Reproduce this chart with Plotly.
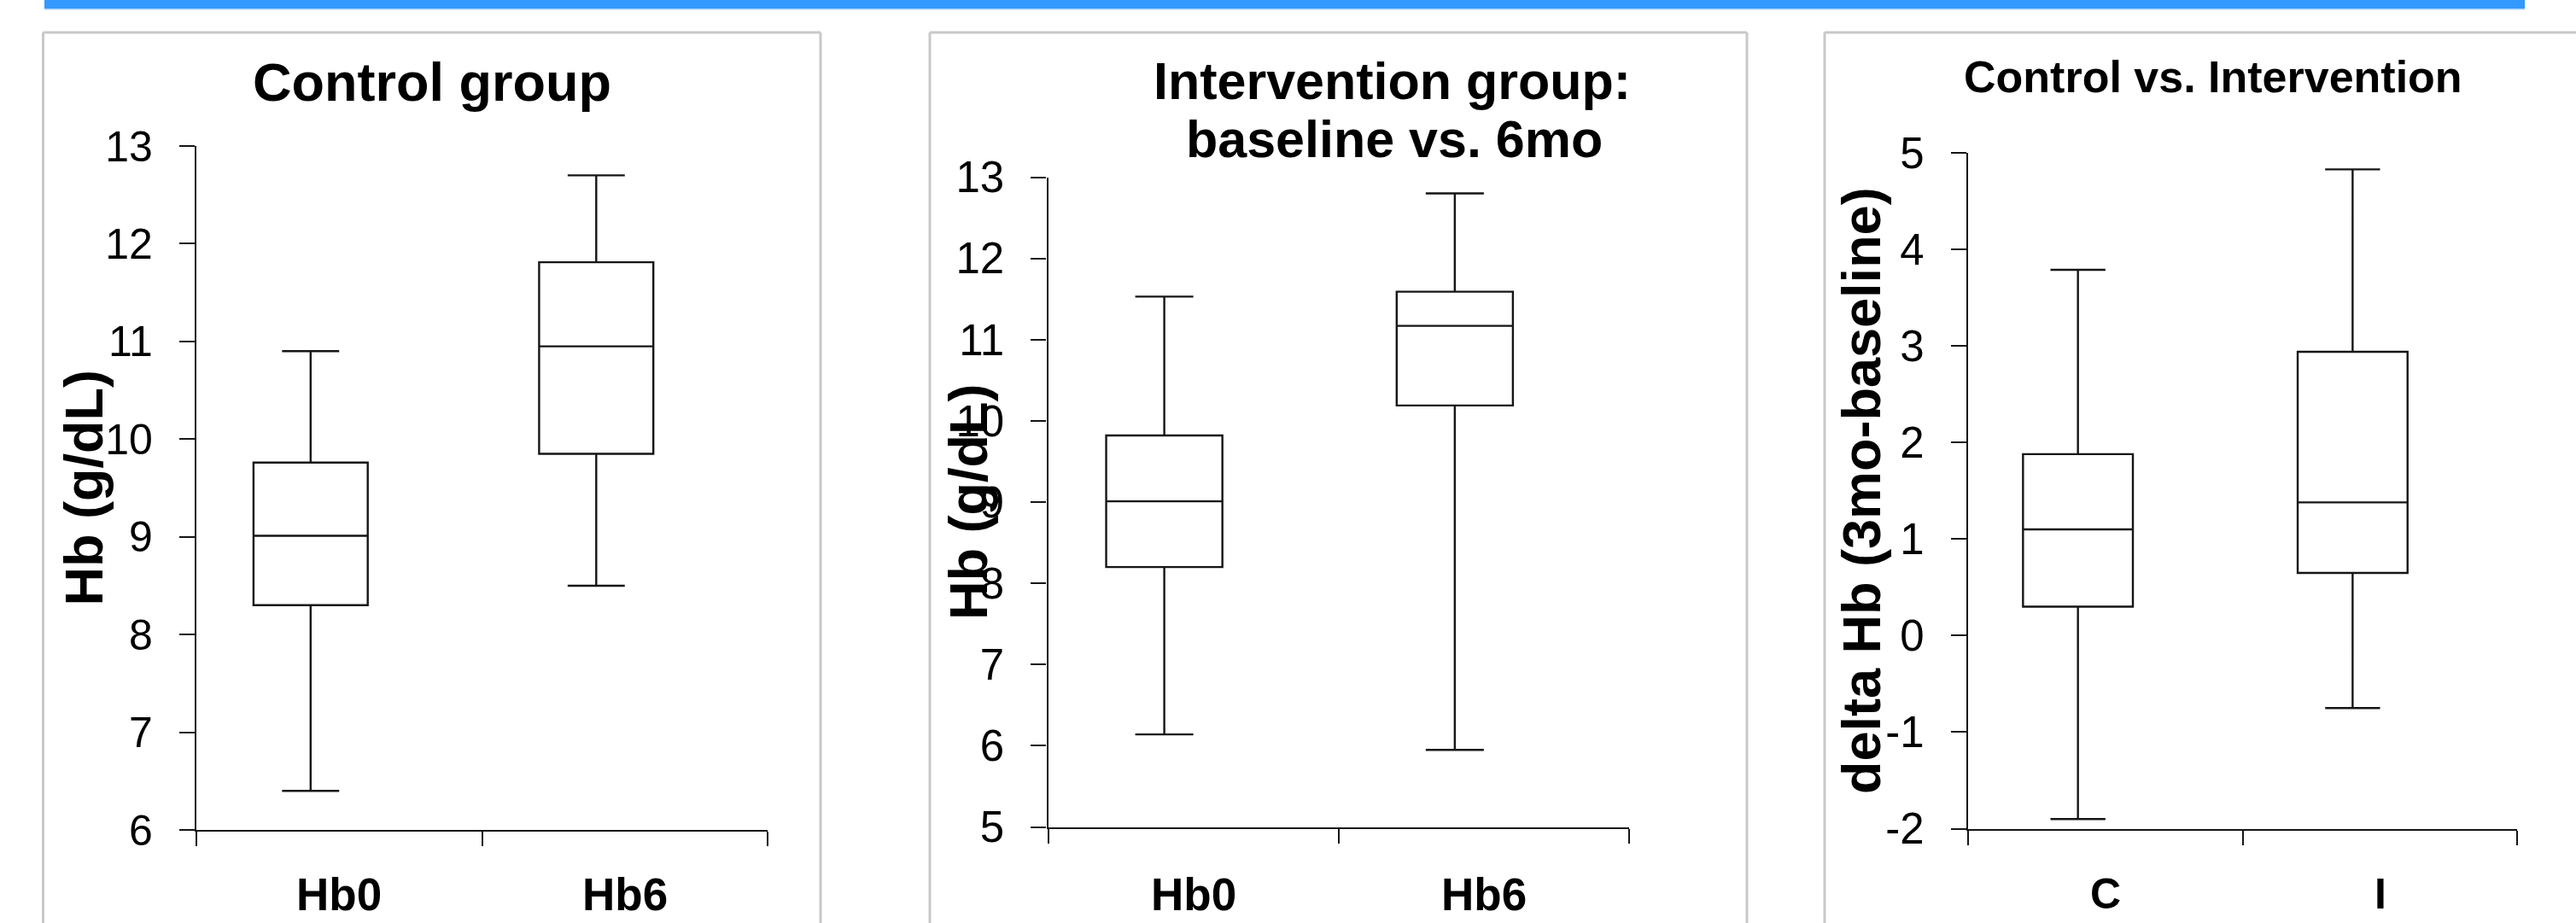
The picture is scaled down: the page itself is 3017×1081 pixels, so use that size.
import plotly.graph_objects as go

W, H = 3017, 1081

# ---------------- data ----------------
p1_categories = ["Hb0", "Hb6"]
p1_lower = [6.40, 8.50]
p1_q1 = [8.30, 9.85]
p1_median = [9.01, 10.95]
p1_q3 = [9.76, 11.81]
p1_upper = [10.90, 12.70]

p2_categories = ["Hb0", "Hb6"]
p2_lower = [6.14, 5.95]
p2_q1 = [8.20, 10.19]
p2_median = [9.01, 11.17]
p2_q3 = [9.82, 11.59]
p2_upper = [11.53, 12.80]

p3_categories = ["C", "I"]
p3_lower = [-1.90, -0.75]
p3_q1 = [0.30, 0.65]
p3_median = [1.10, 1.38]
p3_q3 = [1.88, 2.94]
p3_upper = [3.79, 4.83]

p1_yticks = [6, 7, 8, 9, 10, 11, 12, 13]
p2_yticks = [5, 6, 7, 8, 9, 10, 11, 12, 13]
p3_yticks = [-2, -1, 0, 1, 2, 3, 4, 5]

titles = ["Control group", "Intervention group:", "baseline vs. 6mo", "Control vs. Intervention"]
ytitles = ["Hb (g/dL)", "Hb (g/dL)", "delta Hb (3mo-baseline)"]

FONT = "Liberation Sans, Arial, sans-serif"
INK = "#151515"


def px(x):
    return x / W


def py(y):
    return 1 - y / H


fig = go.Figure()

panels = [
    (p1_lower, p1_q1, p1_median, p1_q3, p1_upper, "x", "y"),
    (p2_lower, p2_q1, p2_median, p2_q3, p2_upper, "x2", "y2"),
    (p3_lower, p3_q1, p3_median, p3_q3, p3_upper, "x3", "y3"),
]
for lo, q1, me, q3, up, xa, ya in panels:
    fig.add_trace(go.Box(
        x=[i + 0.4 for i in range(len(me))],
        lowerfence=lo, q1=q1, median=me, q3=q3, upperfence=up,
        width=0.4, whiskerwidth=0.5,
        fillcolor="white", line=dict(color=INK, width=2.4),
        xaxis=xa, yaxis=ya, showlegend=False, hoverinfo="skip",
    ))

# axis geometry (pixels)
xdom = [(230, 899), (1227.5, 1908), (2305, 2948.4)]
ydom = [(171, 972), (207.5, 968.6), (179.2, 970.5)]
yranges = [[6, 13], [5, 13], [-2, 5]]
yticks = [p1_yticks, p2_yticks, p3_yticks]
tick_sizes = [50, 51, 51]

axcommon = dict(showgrid=False, zeroline=False, showline=True, linecolor=INK,
                linewidth=2.2, ticks="outside", tickcolor=INK, tickwidth=2.2,
                automargin=False)
for k in range(3):
    sfx = "" if k == 0 else str(k + 1)
    fig.update_layout(**{
        "xaxis" + sfx: dict(axcommon, domain=[px(xdom[k][0]), px(xdom[k][1])],
                            range=[0, 2], tickvals=[0, 1, 2], showticklabels=False,
                            ticklen=17, anchor="y" + sfx),
        "yaxis" + sfx: dict(axcommon, domain=[py(ydom[k][1]), py(ydom[k][0])],
                            range=yranges[k], tickvals=yticks[k],
                            ticktext=[str(v) for v in yticks[k]], ticklen=18,
                            ticklabelstandoff=21,
                            tickfont=dict(family=FONT, size=tick_sizes[k], color="#000"),
                            anchor="x" + sfx),
    })

ann = []
ann.append(dict(text="<b>%s</b>" % titles[0], x=px(506), y=py(95.5), size=63))
ann.append(dict(text="<b>%s</b>" % titles[1], x=px(1630.5), y=py(95), size=61))
ann.append(dict(text="<b>%s</b>" % titles[2], x=px(1632.5), y=py(163), size=61))
ann.append(dict(text="<b>%s</b>" % titles[3], x=px(2591.6), y=py(90.3), size=52))
annotations = []
for a in ann:
    annotations.append(dict(text=a["text"], xref="paper", yref="paper", x=a["x"], y=a["y"],
                            xanchor="center", yanchor="middle", showarrow=False,
                            font=dict(family=FONT, size=a["size"], color="#000")))
# y-axis titles
for xc, yc, t in [(97, 571.5, ytitles[0]), (1134, 588, ytitles[1]), (2180, 575, ytitles[2])]:
    annotations.append(dict(text="<b>%s</b>" % t, xref="paper", yref="paper",
                            x=px(xc), y=py(yc), textangle=-90, xanchor="center",
                            yanchor="middle", showarrow=False,
                            font=dict(family=FONT, size=63, color="#000")))
# category labels
for xa, cats, size in [("x", p1_categories, 53), ("x2", p2_categories, 53), ("x3", p3_categories, 50)]:
    for i, c in enumerate(cats):
        annotations.append(dict(text="<b>%s</b>" % c, xref=xa, yref="paper", x=i + 0.5,
                                y=py(1047), xanchor="center", yanchor="middle",
                                showarrow=False, font=dict(family=FONT, size=size, color="#000")))

shapes = []
shapes.append(dict(type="rect", xref="paper", yref="paper", x0=px(52), x1=px(2957),
                   y0=py(10), y1=py(-2), fillcolor="#3399ff", line=dict(width=0), layer="below"))
shapes.append(dict(type="rect", xref="paper", yref="paper", x0=px(52), x1=px(2957),
                   y0=py(11.5), y1=py(10), fillcolor="#a9d2fb", line=dict(width=0), layer="below"))
BORDER = dict(color="#c8c8c8", width=3)
for x0, x1, right in [(50.5, 961, True), (1089, 2046, True), (2137, 3030, False)]:
    shapes.append(dict(type="line", xref="paper", yref="paper", x0=px(x0), x1=px(x1),
                       y0=py(38), y1=py(38), line=BORDER, layer="below"))
    shapes.append(dict(type="line", xref="paper", yref="paper", x0=px(x0), x1=px(x0),
                       y0=py(38), y1=py(1100), line=BORDER, layer="below"))
    if right:
        shapes.append(dict(type="line", xref="paper", yref="paper", x0=px(x1), x1=px(x1),
                           y0=py(38), y1=py(1100), line=BORDER, layer="below"))

fig.update_layout(
    width=W, height=H,
    margin=dict(l=0, r=0, t=0, b=0, autoexpand=False),
    paper_bgcolor="white", plot_bgcolor="rgba(0,0,0,0)",
    annotations=annotations, shapes=shapes,
    showlegend=False,
    font=dict(family=FONT),
)

fig.write_html("out.html")
